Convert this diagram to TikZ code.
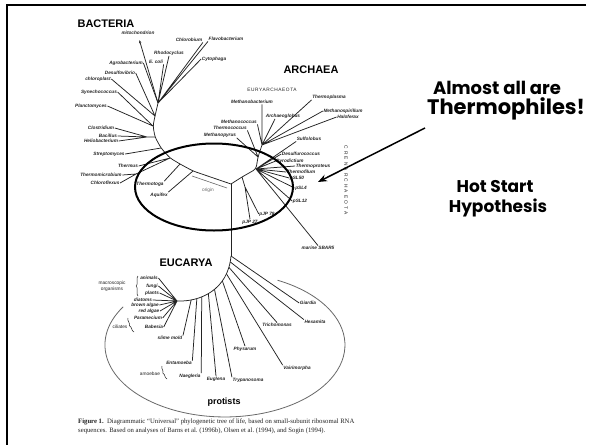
\documentclass[tikz,border=0pt]{standalone}
\usepackage{fontspec}
\setmainfont{Liberation Serif}
\setsansfont{Liberation Sans}
\newfontfamily\handfont{Poppins}
\usetikzlibrary{arrows.meta, positioning, decorations.pathreplacing}
\definecolor{inkgray}{RGB}{35, 35, 35}
\definecolor{ringgray}{RGB}{105, 105, 105}

\begin{document}
\begin{tikzpicture}[
        x=1pt, y=-1pt,
        leaf/.style={font=\sffamily\bfseries\itshape\fontsize{4.7}{4.7}\selectfont, text=inkgray, inner sep=0.5pt},
        grouplabel/.style={font=\sffamily\fontsize{4.8}{4.8}\selectfont, text=inkgray, inner sep=0.5pt},
        kingdom/.style={font=\sffamily\bfseries\fontsize{11}{11}\selectfont, inner sep=0pt},
        branch/.style={draw=inkgray, line width=0.75pt, line join=round},
        bracket/.style={decorate, decoration={brace, amplitude=1.8pt}, draw=inkgray, line width=0.5pt},
        note/.style={font=\handfont\bfseries\fontsize{18}{18}\selectfont, inner sep=0pt},
        arrow/.style={-{Stealth[length=9pt, width=7pt]}, line width=1.5pt},
        ring/.style={draw, line width=2pt}
    ]
        \useasboundingbox (0,0) rectangle (594,445);
        \fill[white] (0,0) rectangle (594,445);
        \draw[line width=2.5pt] (586,5) -- (7,5) -- (7,445);

        % Nodes
        \node[kingdom] (bacteria) at (106,24) {BACTERIA};
        \node[kingdom] (archaea) at (311,70) {ARCHAEA};
        \node[kingdom] (eucarya) at (186,263) {EUCARYA};
        \node[kingdom, font=\sffamily\bfseries\fontsize{9}{9}\selectfont] (protists) at (224,402) {protists};
        \node[grouplabel, font=\sffamily\fontsize{4.8}{4.8}\selectfont\addfontfeature{LetterSpace=12}] (eury) at (272,90) {EURYARCHAEOTA};
        \node[grouplabel, rotate=-90, font=\sffamily\fontsize{4.8}{4.8}\selectfont\addfontfeature{LetterSpace=45}] (cren) at (346,180) {CRENARCHAEOTA};

        % bacteria
        \node[leaf] (mito) at (138,33) {mitochondrion};
        \node[leaf] (agro) at (126,63) {Agrobacterium};
        \node[leaf] (ecoli) at (156,62) {E. coli};
        \node[leaf] (rhodo) at (169,53) {Rhodocyclus};
        \node[leaf] (chlorobium) at (189,40) {Chlorobium};
        \node[leaf] (flavo) at (226,39) {Flavobacterium};
        \node[leaf] (cyto) at (214,59) {Cytophaga};
        \node[leaf] (desulfo) at (120,73) {Desulfovibrio};
        \node[leaf] (chloroplast) at (98,79) {chloroplast};
        \node[leaf] (syne) at (99,92) {Synechococcus};
        \node[leaf] (plancto) at (91,106) {Planctomyces};
        \node[leaf] (clostri) at (101,128) {Clostridium};
        \node[leaf] (bacil) at (108,136) {Bacillus};
        \node[leaf] (helio) at (101,141) {Heliobacterium};
        \node[leaf] (strepto) at (109,154) {Streptomyces};
        \node[leaf] (thermus) at (128,166) {Thermus};
        \node[leaf] (thermomicro) at (101,175) {Thermomicrobium};
        \node[leaf] (chloroflexus) at (105,183) {Chloroflexus};
        \node[leaf] (thermotoga) at (150,184) {Thermotoga};
        \node[leaf] (aquifex) at (159,195) {Aquifex};
        \node[grouplabel, text=ringgray] (origin) at (208,190) {origin};

        % archaea
        \node[leaf] (methbact) at (252,102) {Methanobacterium};
        \node[leaf] (archaeo) at (283,116) {Archaeoglobus};
        \node[leaf] (thermoplasma) at (329,97) {Thermoplasma};
        \node[leaf] (methspir) at (343,111) {Methanospirillum};
        \node[leaf] (haloferax) at (348,117) {Haloferax};
        \node[leaf] (methcoc) at (239,122) {Methanococcus};
        \node[leaf] (thermococ) at (230,128) {Thermococcus};
        \node[leaf] (methpyr) at (220,135) {Methanopyrus};
        \node[leaf] (sulfolobus) at (309,139) {Sulfolobus};
        \node[leaf] (desulfuro) at (301,154) {Desulfurococcus};
        \node[leaf] (pyrodictium) at (290,161) {Pyrodictium};
        \node[leaf] (thermoproteus) at (313,166) {Thermoproteus};
        \node[leaf] (thermofilum) at (301,172) {Thermofilum};
        \node[leaf] (psl50) at (297,178) {pSL50};
        \node[leaf] (psl4) at (301,188) {pSL4};
        \node[leaf] (psl12) at (300,201) {pSL12};
        \node[leaf] (sbar5) at (318,248) {marine SBAR5};
        \node[leaf] (pjp78) at (267,214) {pJP 78};
        \node[leaf] (pjp27) at (250,222) {pJP 27};

        % eucarya
        \node[leaf] (animals) at (149,278) {animals};
        \node[leaf] (fungi) at (152,286) {fungi};
        \node[leaf] (plants) at (152,293) {plants};
        \node[leaf] (diatoms) at (143,300) {diatoms};
        \node[leaf] (brownalgae) at (145,305) {brown algae};
        \node[leaf] (redalgae) at (149,311) {red algae};
        \node[leaf] (paramecium) at (148,318) {Paramecium};
        \node[leaf] (babesia) at (154,327) {Babesia};
        \node[leaf] (slimemold) at (170,338) {slime mold};
        \node[leaf] (entamoeba) at (179,363) {Entamoeba};
        \node[leaf] (naegleria) at (190,376) {Naegleria};
        \node[leaf] (euglena) at (216,379) {Euglena};
        \node[leaf] (trypanosoma) at (248,380) {Trypanosoma};
        \node[leaf] (physarum) at (245,349) {Physarum};
        \node[leaf] (vairimorpha) at (297,368) {Vairimorpha};
        \node[leaf] (trichomonas) at (277,325) {Trichomonas};
        \node[leaf] (hexamita) at (315,322) {Hexamita};
        \node[leaf] (giardia) at (308,303) {Giardia};
        \node[grouplabel, align=center, font=\sffamily\fontsize{4.8}{6}\selectfont] (macro) at (112,286) {macroscopic\\organisms};
        \node[grouplabel] (ciliates) at (120,327) {ciliates};
        \node[grouplabel] (amoebae) at (150,374) {amoebae};

        % notes
        \node[note] (almost) at (497,88) {Almost all are};
        \node[note, font=\handfont\bfseries\fontsize{21}{21}\selectfont, below=3pt of almost, xshift=9pt] (thermo) {Thermophiles!};
        \node[note, font=\handfont\bfseries\fontsize{17}{17}\selectfont] (hotstart) at (495,187) {Hot Start};
        \node[note, font=\handfont\bfseries\fontsize{17}{17}\selectfont, below=5pt of hotstart, xshift=3pt] (hypo) {Hypothesis};
        \node[anchor=north west, align=left, inner sep=0pt, text=inkgray, font=\fontsize{6.7}{8.8}\selectfont] (caption) at (78,419)
            {\textbf{Figure 1.}\enspace Diagrammatic “Universal” phylogenetic tree of life, based on small-subunit ribosomal RNA\\
             sequences. Based on analyses of Barns et al.\ (1996b), Olsen et al.\ (1994), and Sogin (1994).};

        % Junctions
        \coordinate (b1) at (158,103);
        \coordinate (b2) at (155,116);
        \coordinate (b3) at (153,126);
        \coordinate (b4) at (155,137);
        \coordinate (b5) at (161,148);
        \coordinate (b6) at (170,158);
        \coordinate (b7) at (180,164);
        \coordinate (b8) at (193,171);
        \coordinate (jh) at (147,137);
        \coordinate (jt) at (136,174);
        \coordinate (root) at (231,184);
        \coordinate (a1) at (242,177);
        \coordinate (cren junction) at (256,169);
        \coordinate (e1) at (258,157);
        \coordinate (eury junction) at (262,145);
        \coordinate (pj) at (245,187);
        \coordinate (trunk) at (231,256);
        \coordinate (crown) at (177,301);
        \coordinate (o1) at (192,176);
        \coordinate (o2) at (227,188);
        \coordinate (protarc) at (123.2,306.8);
        \coordinate (arrowtail) at (425,128);
        \coordinate (arrowtip) at (318,182);

        % Connections
        \draw[branch, rounded corners=3pt] (b1) -- (b2) -- (b3) -- (b4) -- (b5) -- (b6) -- (b7) -- (b8) -- (root);
        \draw[branch, rounded corners=3pt] (root) -- (a1) -- (cren junction) -- (e1) -- (eury junction);
        \draw[branch] (root) -- (trunk);
        \draw[branch] (trunk) .. controls (228,290) and (200,302) .. (crown)
            coordinate[pos=0.06] (cA) coordinate[pos=0.12] (cB) coordinate[pos=0.2] (cC)
            coordinate[pos=0.3] (cD) coordinate[pos=0.45] (cE) coordinate[pos=0.55] (cF)
            coordinate[pos=0.65] (cG) coordinate[pos=0.72] (cH) coordinate[pos=0.8] (cI);
        \draw[draw=ringgray, line width=0.6pt] (o1) -- (o2);

        \draw[branch, -{Stealth[length=3pt, width=2.4pt]}, shorten >=5pt] (b1) -- (mito.south);
        \draw[branch] (b1) -- (agro.east) (b1) -- (ecoli.south east) (b1) -- (rhodo.south)
            (b1) -- (chlorobium.south east) (b1) -- (flavo.south west) (b1) -- (cyto.west);
        \draw[branch] (b2) -- (desulfo.east) (b2) -- (chloroplast.east);
        \draw[branch] (b3) -- (syne.east) (b3) -- (plancto.east);
        \draw[branch] (b4) -- (jh) (jh) -- (clostri.east) (jh) -- (bacil.east) (jh) -- (helio.east);
        \draw[branch] (b5) -- (strepto.east);
        \draw[branch] (b6) -- (thermus.east) (b6) -- (jt) (jt) -- (thermomicro.east) (jt) -- (chloroflexus.east);
        \draw[branch] (b7) -- (thermotoga.north east);
        \draw[branch] (b8) -- (aquifex.north east);

        \draw[branch] (eury junction) -- (eury junction |- methbact.south) (eury junction) -- ([xshift=-8pt]archaeo.south)
            (eury junction) -- (thermoplasma.south west) (eury junction) -- (methspir.west)
            (eury junction) -- (haloferax.west) (eury junction) -- (methcoc.south east);
        \draw[branch] (e1) -- (thermococ.south east) (e1) -- (methpyr.south east);
        \draw[branch] (cren junction) -- (sulfolobus.south west) (cren junction) -- (desulfuro.west)
            (cren junction) -- (pyrodictium.west) (cren junction) -- (thermoproteus.west)
            (cren junction) -- (thermofilum.west) (cren junction) -- (psl50.west)
            (cren junction) -- (psl4.west) (cren junction) -- (psl12.west) (cren junction) -- (sbar5.north);
        \draw[branch] (a1) -- (pj) (pj) -- (pjp78.west) (pj) -- (pjp27.north);

        \draw[branch] (trunk) -- (giardia.west);
        \draw[branch] (cA) -- (hexamita.north west);
        \draw[branch] (cB) -- (trichomonas.north);
        \draw[branch] (cC) -- (vairimorpha.north west);
        \draw[branch] (cD) -- (physarum.north);
        \draw[branch] (cE) -- (trypanosoma.north west);
        \draw[branch] (cF) -- (euglena.north);
        \draw[branch] (cG) -- (naegleria.north east);
        \draw[branch] (cH) -- (entamoeba.north east);
        \draw[branch] (cI) -- (slimemold.north east);
        \draw[branch] (crown) -- (animals.east) (crown) -- (fungi.east) (crown) -- (plants.east)
            (crown) -- (diatoms.east) (crown) -- (brownalgae.east) (crown) -- (redalgae.east)
            (crown) -- (paramecium.east) (crown) -- (babesia.east);

        % Grouping
        \draw[bracket] (138,296) -- (138,276);
        \draw[bracket] (134,332) -- (128,318);
        \draw[bracket] (167,379) -- (162,366);
        \draw[draw=ringgray, line width=0.8pt] (protarc) arc[start angle=212, end angle=-64, x radius=120, y radius=72];
        \draw[ring] (214,187) ellipse [x radius=79, y radius=43.5];
        \draw[arrow] (arrowtail) -- (arrowtip);
    \end{tikzpicture}
\end{document}
